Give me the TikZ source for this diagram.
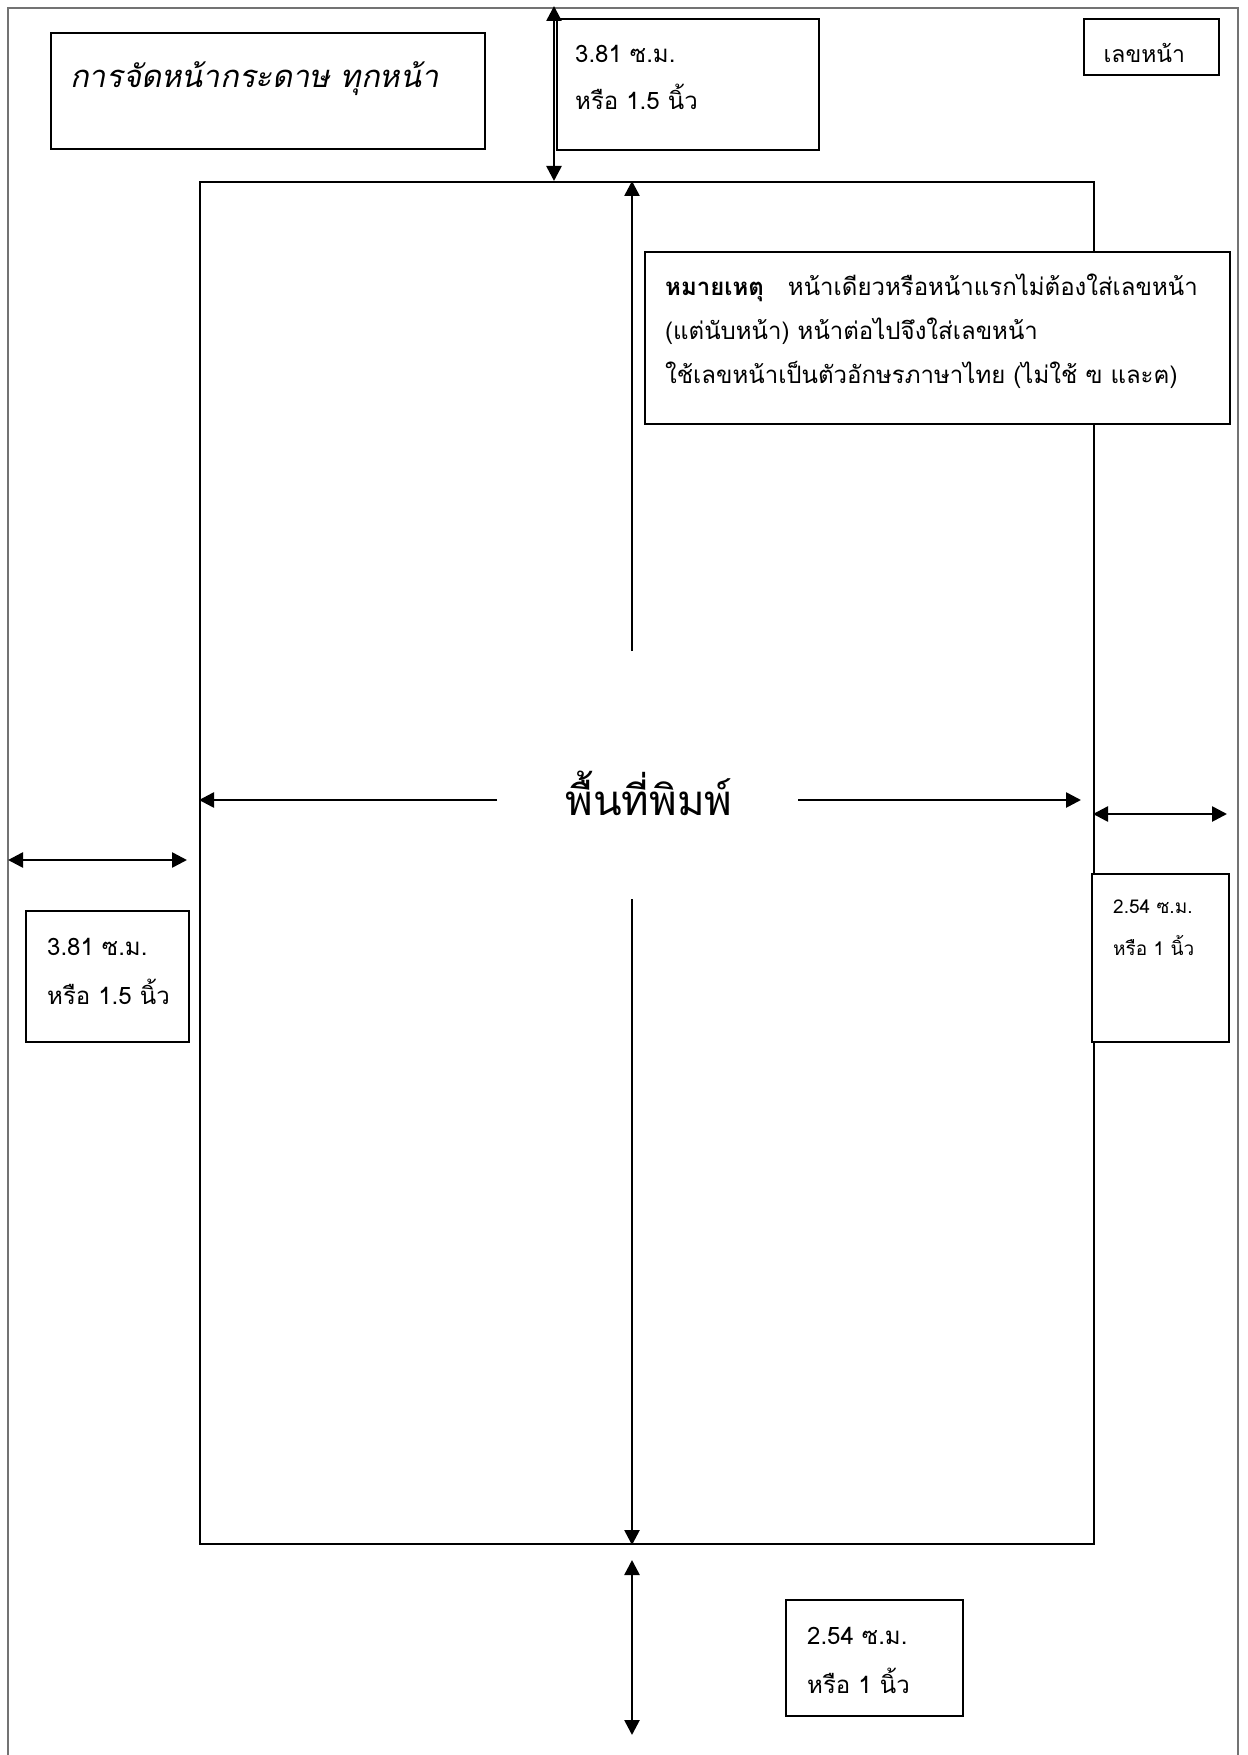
\documentclass[tikz,border=0pt]{standalone}
\usepackage{fontspec}
\setmainfont[Script=Thai]{Loma}
\newfontfamily\thaiit[Script=Thai,FakeSlant=0.2]{Loma}
\usetikzlibrary{arrows.meta}
\begin{document}
\begin{tikzpicture}[x=1pt,y=-1pt,
  frame/.style={draw=black!55,line width=2pt},
  boxstyle/.style={draw,line width=1.6pt,inner sep=0pt,anchor=north west},
  dim/.style={line width=2.6pt,{Triangle[length=15pt,width=15pt]}-{Triangle[length=15pt,width=15pt]}},
  one/.style={line width=2.6pt,-{Triangle[length=15pt,width=15pt]}},
  lbl/.style={anchor=base west,inner sep=0pt,font=\fontsize{24}{28}\selectfont},
  slbl/.style={anchor=base west,inner sep=0pt,font=\fontsize{19}{23}\selectfont},
  note/.style={anchor=base west,inner sep=0pt,font=\fontsize{24}{28}\selectfont},
]
\useasboundingbox (0,0) rectangle (1247,1755);
% outer page frame
\draw[frame] (8,1755) -- (8,8) -- (1238,8) -- (1238,1755);
% print area
\node[boxstyle,line width=2pt,minimum width=894pt,minimum height=1362pt] (area) at (199,181) {};
% title
\node[boxstyle,minimum width=434pt,minimum height=116pt] (titlebox) at (50,32) {};
\node[anchor=base west,inner sep=0pt,font=\thaiit\fontsize{31}{36}\selectfont] (title) at (70,88) {การจัดหน้ากระดาษ ทุกหน้า};
% page number box
\node[boxstyle,minimum width=135pt,minimum height=56pt] (pnbox) at (1083,18) {};
\node[anchor=base,inner sep=0pt,font=\fontsize{23}{27}\selectfont] (pn) at ([xshift=-7pt,yshift=-45pt]pnbox.north) {เลขหน้า};
% top margin
\node[boxstyle,minimum width=262pt,minimum height=131pt] (topbox) at (556,18) {};
\node[lbl] (top1) at (575,63) {3.81 ซ.ม.};
\node[lbl] (top2) at (575,110) {หรือ 1.5 นิ้ว};
\coordinate (ft) at (554,6);
\draw[dim] (ft) -- (ft |- area.north);
% note box
\node[boxstyle,fill=white,minimum width=585pt,minimum height=172pt] (notebox) at (644,251) {};
\node[note] (n1) at (665,295) {\textbf{หมายเหตุ}\hspace{24pt}หน้าเดียวหรือหน้าแรกไม่ต้องใส่เลขหน้า};
\node[note] (n2) at (665,339) {(แต่นับหน้า) หน้าต่อไปจึงใส่เลขหน้า};
\node[note] (n3) at (665,383) {ใช้เลขหน้าเป็นตัวอักษรภาษาไทย (ไม่ใช้ ฃ และฅ)};
% print area label and arrows
\node[anchor=base,inner sep=0pt,font=\fontsize{42}{50}\selectfont] (pt) at (649,815) {พื้นที่พิมพ์};
\coordinate (vu) at (632,651);
\draw[one] (vu) -- (vu |- area.north);
\coordinate (vd) at (632,899);
\draw[one] (vd) -- (vd |- area.south);
\coordinate (hl) at (497,800);
\draw[one] (hl) -- (hl -| area.west);
\coordinate (hr) at (798,800);
\coordinate (hre) at (1081,800);
\draw[one] (hr) -- (hre);
% left margin
\coordinate (la) at (8,860);
\coordinate (lb) at (187,860);
\draw[dim] (la) -- (lb);
\node[boxstyle,minimum width=163pt,minimum height=131pt] (leftbox) at (25,910) {};
\node[lbl] (l1) at (47,955) {3.81 ซ.ม.};
\node[lbl] (l2) at (47,1004) {หรือ 1.5 นิ้ว};
% right margin
\coordinate (ra) at (1093,814);
\coordinate (rb) at (1227,814);
\draw[dim] (ra) -- (rb);
\node[boxstyle,fill=white,minimum width=137pt,minimum height=168pt] (rightbox) at (1091,873) {};
\node[slbl] (r1) at (1113,913) {2.54 ซ.ม.};
\node[slbl] (r2) at (1113,955) {หรือ 1 นิ้ว};
% bottom margin
\coordinate (ba) at (632,1560);
\coordinate (bb) at (632,1735);
\draw[dim] (ba) -- (bb);
\node[boxstyle,minimum width=177pt,minimum height=116pt] (botbox) at (785,1599) {};
\node[lbl] (b1) at (807,1644) {2.54 ซ.ม.};
\node[lbl] (b2) at (807,1693) {หรือ 1 นิ้ว};
\end{tikzpicture}
\end{document}
